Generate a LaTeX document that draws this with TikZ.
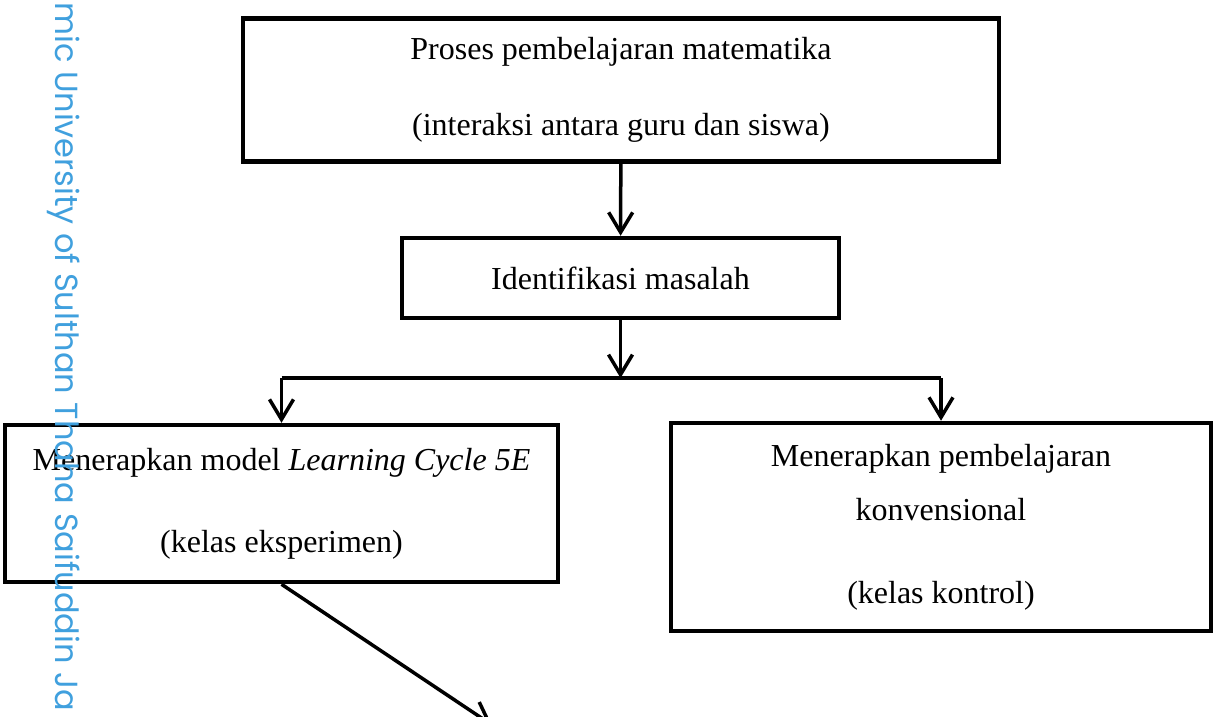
\documentclass[tikz,border=0pt]{standalone}
\usepackage{fontspec}
\setmainfont{Liberation Serif}
\newfontfamily\wmfont{Poppins}
\usetikzlibrary{arrows.meta}
\definecolor{wmblue}{RGB}{64,160,222}

\begin{document}
\begin{tikzpicture}[x=1pt,y=-1pt]
\tikzstyle{box}=[draw,line width=4.5pt,rectangle,align=center,inner sep=0pt,font=\fontsize{32}{38}\selectfont];
\tikzstyle{arr}=[line width=3.5pt,-{Straight Barb[length=20pt,width=24pt,line width=3.5pt]}];
\useasboundingbox (0,0) rectangle (1216,716);
\fill[white] (0,0) rectangle (1216,716);
\clip (0,0) rectangle (1216,716);
\node[box,minimum width=756pt,minimum height=143pt] (proses) at (621,90)
	{Proses pembelajaran matematika\\[38pt](interaksi antara guru dan siswa)};
\node[box,minimum width=437pt,minimum height=80pt] (identifikasi) at (620.5,278)
	{Identifikasi masalah};
\node[box,minimum width=553pt,minimum height=157pt] (eksperimen) at (281.5,503.5)
	{Menerapkan model \textit{Learning Cycle 5E}\\[44pt](kelas eksperimen)};
\node[box,minimum width=540pt,minimum height=208pt] (kontrol) at (941,527)
	{Menerapkan pembelajaran\\[16pt]konvensional\\[45pt](kelas kontrol)};
\coordinate (cabang) at (620.5,378);
\coordinate (lanjut) at (492,725);
\draw[arr] (proses) -- (identifikasi);
\draw[arr] (identifikasi) -- (cabang);
\draw[line width=3.5pt] (eksperimen.north |- cabang) -- (kontrol.north |- cabang);
\draw[arr] (eksperimen.north |- cabang) -- (eksperimen);
\draw[arr] (kontrol.north |- cabang) -- (kontrol);
\draw[arr] (eksperimen.south) -- (lanjut);
\node[font=\wmfont\fontsize{32}{38}\selectfont,text=wmblue,rotate=-90,anchor=base west,inner sep=0pt] (watermark) at (55,2)
	{mic University of Sulthan Thaha Saifuddin Ja};
\end{tikzpicture}
\end{document}
